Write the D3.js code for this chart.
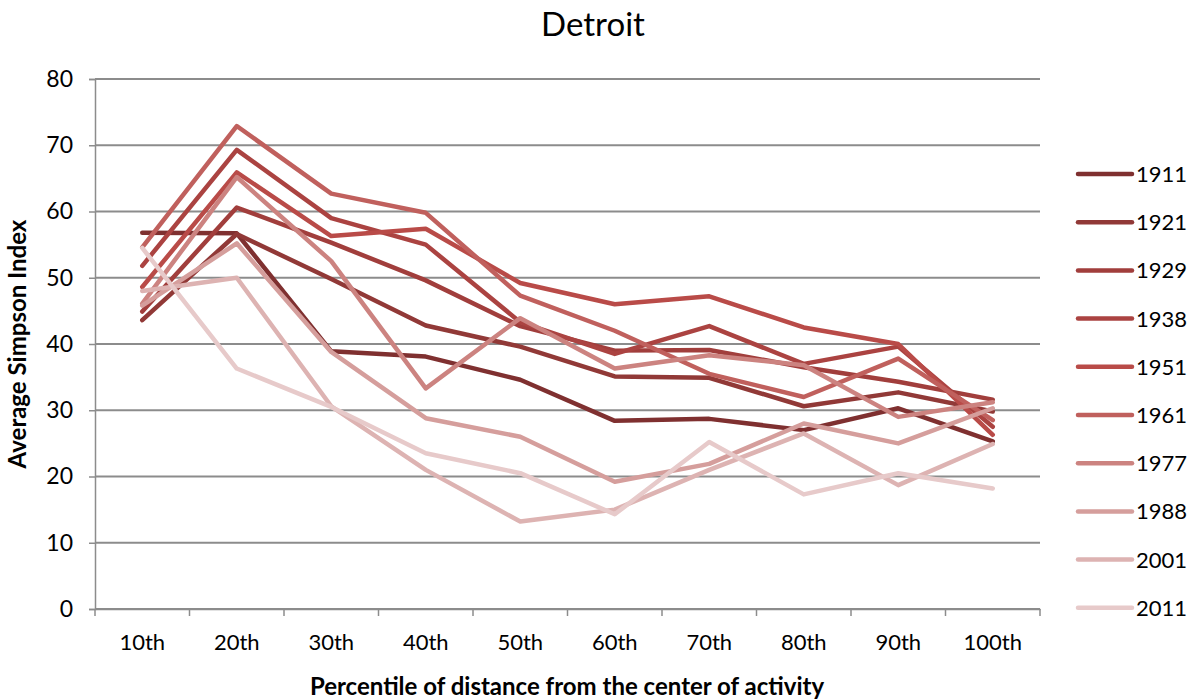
<!DOCTYPE html>
<html><head><meta charset="utf-8">
<script src="https://cdn.jsdelivr.net/npm/d3@7"></script>
<style>body{margin:0;background:#fff}svg{display:block}text{font-family:Lato,"Open Sans",sans-serif;fill:#000}</style>
</head><body><div id="chart"></div>
<script>
const categories = ["10th","20th","30th","40th","50th","60th","70th","80th","90th","100th"];
const years = ["1911","1921","1929","1938","1951","1961","1977","1988","2001","2011"];
const s1911 = [56.8,56.7,38.9,38.1,34.6,28.4,28.7,27.0,30.3,25.3];
const s1921 = [43.6,56.6,49.8,42.8,39.6,35.1,34.9,30.6,32.7,29.8];
const s1929 = [44.9,60.6,55.3,49.6,42.7,39.0,39.1,36.5,34.3,31.6];
const s1938 = [51.8,69.3,59.0,55.0,43.3,38.5,42.7,37.0,39.6,27.5];
const s1951 = [48.6,65.9,56.3,57.4,49.2,46.0,47.2,42.5,40.0,26.3];
const s1961 = [54.6,72.9,62.7,59.8,47.3,42.0,35.5,32.0,37.8,28.5];
const s1977 = [46.1,65.2,52.5,33.3,43.9,36.3,38.3,36.8,29.0,31.2];
const s1988 = [45.8,55.2,38.8,28.8,26.0,19.2,21.9,28.0,25.0,30.3];
const s2001 = [48.0,50.0,30.6,21.0,13.2,15.0,21.0,26.5,18.7,24.9];
const s2011 = [54.5,36.3,30.5,23.5,20.5,14.3,25.2,17.3,20.5,18.2];
const seriesValues = [s1911,s1921,s1929,s1938,s1951,s1961,s1977,s1988,s2001,s2011];
const colors = ["#7f3030","#913937","#a13e3c","#ab4341","#b94b48","#c0605d","#cc8380","#d59e9c","#ddb3b2","#e7caca"];
const yTicks = [0,10,20,30,40,50,60,70,80];

const W=1198,H=700;
const FONT="Lato,'Open Sans',sans-serif";
const svg=d3.select("#chart").append("svg").attr("width",W).attr("height",H);
const x=d3.scaleBand().domain(categories).range([95,1040]).padding(0);
const y=d3.scaleLinear().domain([0,80]).range([609,79]);
const cx=c=>x(c)+x.bandwidth()/2;

// gridlines
svg.append("g").selectAll("line").data(yTicks).join("line")
  .attr("x1",95).attr("x2",1040).attr("y1",d=>y(d)).attr("y2",d=>y(d))
  .attr("stroke","#8c8c8c").attr("stroke-width",2);

// y axis
const ya=svg.append("g").attr("transform","translate(95,0)")
  .call(d3.axisLeft(y).tickValues(yTicks).tickSize(6).tickPadding(16));
ya.select(".domain").attr("stroke","#8c8c8c").attr("stroke-width",1.5);
ya.selectAll(".tick line").attr("stroke","#8c8c8c").attr("stroke-width",1.5);
ya.selectAll("text").attr("font-size",23).style("font-family",FONT);

// x axis
const xa=svg.append("g").attr("transform","translate(0,609)")
  .call(d3.axisBottom(x).tickSize(0).tickPadding(25));
xa.select(".domain").attr("stroke","#8c8c8c").attr("stroke-width",1.5);
xa.selectAll("text").attr("font-size",22).style("font-family",FONT);
svg.append("g").selectAll("line").data(d3.range(categories.length+1)).join("line")
  .attr("x1",i=>95+i*x.bandwidth()).attr("x2",i=>95+i*x.bandwidth())
  .attr("y1",609).attr("y2",616).attr("stroke","#8c8c8c").attr("stroke-width",1.5);

// lines
const line=d3.line().x((d,i)=>cx(categories[i])).y(d=>y(d));
svg.append("g").selectAll("path").data(seriesValues).join("path")
  .attr("d",d=>line(d)).attr("fill","none")
  .attr("stroke",(d,i)=>colors[i]).attr("stroke-width",4.5)
  .attr("stroke-linejoin","round").attr("stroke-linecap","round");

// legend
const lg=svg.append("g").selectAll("g").data(years).join("g")
  .attr("transform",(d,i)=>`translate(1078,${174+i*48.2})`);
lg.append("line").attr("x1",0).attr("x2",54).attr("stroke",(d,i)=>colors[i])
  .attr("stroke-width",4.5).attr("stroke-linecap","round");
lg.append("text").attr("x",58).attr("dy","0.36em").attr("font-size",22).text(d=>d);

// titles
svg.append("text").attr("x",593).attr("y",36).attr("text-anchor","middle")
  .attr("font-size",33).text("Detroit");
svg.append("text").attr("x",567).attr("y",695).attr("text-anchor","middle")
  .attr("font-size",24).attr("font-weight","bold")
  .text("Percentile of distance from the center of activity");
svg.append("text").attr("transform","translate(26,344) rotate(-90)")
  .attr("text-anchor","middle").attr("font-size",24).attr("font-weight","bold")
  .text("Average Simpson Index");
</script></body></html>
